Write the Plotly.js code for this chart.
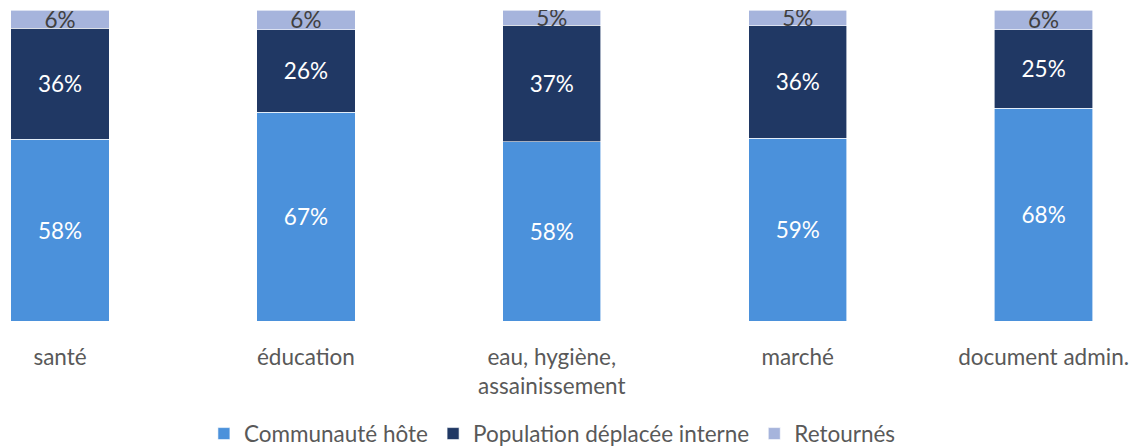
<!DOCTYPE html>
<html>
<head>
<meta charset="utf-8">
<script src="https://cdn.plot.ly/plotly-3.0.1.min.js"></script>
<style>html,body{margin:0;padding:0;background:#fff;}</style>
</head>
<body>
<div id="chart" style="width:1139px;height:446px;"></div>
<script>
const categories = ["santé", "éducation", "eau, hygiène,<br>assainissement", "marché", "document admin."];
const hote = [58.4, 67.2, 57.7, 58.8, 68.4];
const deplacee = [35.8, 26.4, 37.4, 36.2, 25.3];
const retournes = [5.8, 6.4, 4.9, 5.0, 6.3];
const seriesNames = ["Communauté hôte", "Population déplacée interne", "Retournés"];

const FONT = "Lato, 'Open Sans', sans-serif";
const FS = 22.5;
function mk(name, vals, color, txtColor) {
  return {
    type: "bar", name: name, x: categories, y: vals,
    marker: {color: color, line: {color: "#ffffff", width: 0.6}},
    width: 0.4,
    text: vals.map(v => Math.round(v) + "%"),
    texttemplate: "%{text}",
    textposition: "inside",
    insidetextanchor: "middle",
    textangle: 0,
    constraintext: "none",
    textfont: {family: FONT, size: FS, color: txtColor},
    hoverinfo: "skip"
  };
}
const data = [
  mk(seriesNames[0], hote, "#4B91DB", "#ffffff"),
  mk(seriesNames[1], deplacee, "#203864", "#ffffff"),
  mk(seriesNames[2], retournes, "#A6B4DC", "#404040")
];
const layout = {
  width: 1139, height: 446,
  margin: {l: 0, r: 0, t: 9.5, b: 125.3},
  barmode: "stack",
  paper_bgcolor: "#fff", plot_bgcolor: "#fff",
  font: {family: FONT, color: "#595959"},
  xaxis: {
    type: "category", range: [-0.244, 4.388], automargin: false,
    showline: false, showgrid: false, zeroline: false, ticks: "",
    tickfont: {family: FONT, size: FS, color: "#595959"},
    ticklabelstandoff: 20
  },
  yaxis: {range: [0, 100], visible: false, showgrid: false, zeroline: false, automargin: false},
  showlegend: true,
  legend: {
    orientation: "h", x: 0.485, xanchor: "center", xref: "container",
    y: 0.027, yanchor: "middle", yref: "container",
    font: {family: FONT, size: FS, color: "#595959"},
    traceorder: "normal", itemclick: false, itemwidth: 30, tracegroupgap: 0
  }
};
Plotly.newPlot("chart", data, layout, {staticPlot: true});
</script>
</body>
</html>
